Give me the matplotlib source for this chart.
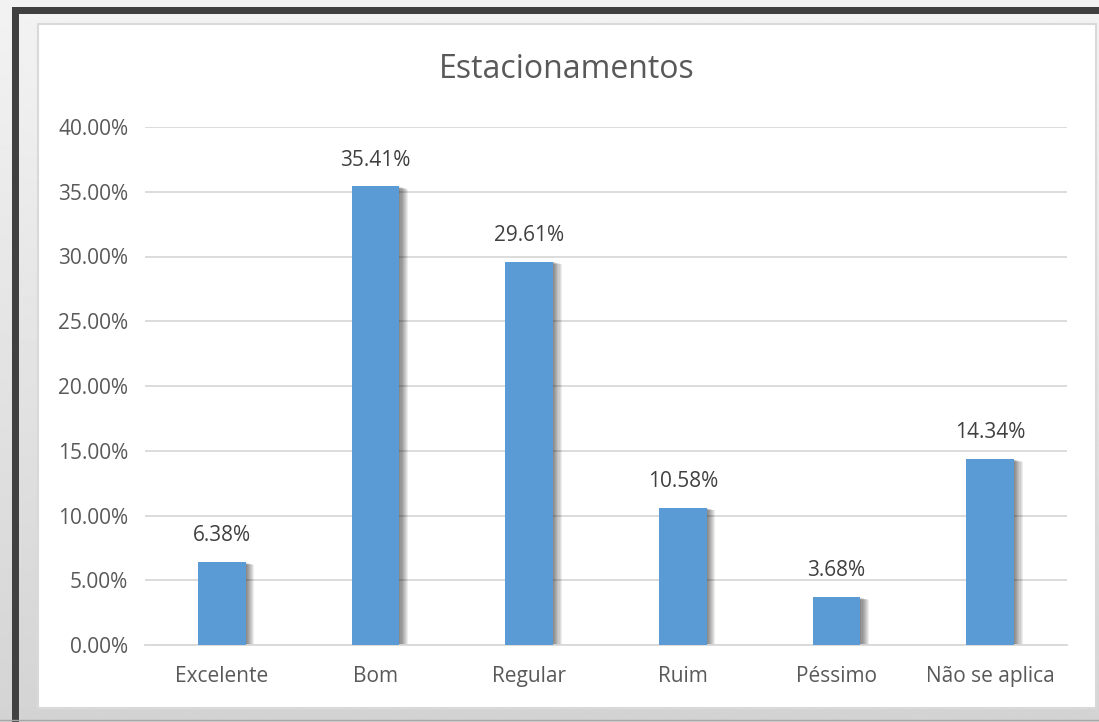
import matplotlib.pyplot as plt
import matplotlib.patches as mpatches
import matplotlib.transforms as mtransforms
import numpy as np

plt.rcParams['font.family'] = ['Open Sans', 'DejaVu Sans']

categorias = ["Excelente", "Bom", "Regular", "Ruim", "Péssimo", "Não se aplica"]
valores = [0.0638, 0.3541, 0.2961, 0.1058, 0.0368, 0.1434]
rotulos = ["6.38%", "35.41%", "29.61%", "10.58%", "3.68%", "14.34%"]
ticks_y = [0.0, 0.05, 0.10, 0.15, 0.20, 0.25, 0.30, 0.35, 0.40]

W, H = 1099, 722
fig = plt.figure(figsize=(W / 100, H / 100), dpi=100)

# moldura / fundo (coordenadas em pixels)
bg = fig.add_axes([0, 0, 1, 1], zorder=-5)
bg.axis("off")
grad = np.linspace(0.95, 0.83, 256).reshape(-1, 1)
bg.imshow(grad, cmap="gray", vmin=0, vmax=1, extent=[0, W, H, 0], aspect="auto", zorder=0)
bg.add_patch(mpatches.Rectangle((0, 0), W, 7, color="#f2f2f2", lw=0, zorder=1))
bg.add_patch(mpatches.Rectangle((12, 7), W, H, color="#404040", lw=0, zorder=2))
bg.imshow(grad, cmap="gray", vmin=0, vmax=1, extent=[19, W, H, 14], aspect="auto", zorder=3)
bg.add_patch(mpatches.Rectangle((38, 24), 1058, 684, facecolor="white",
                                edgecolor="#d9d9d9", lw=1.5, zorder=4))
bg.plot([0, W], [720, 720], color="#a6a6a6", lw=1, zorder=5)
bg.set_xlim(0, W)
bg.set_ylim(H, 0)

ax = fig.add_axes([145 / W, 1 - 645 / H, 922 / W, 518 / H])
ax.set_facecolor("none")
x = np.arange(len(categorias))
larg = 0.31

# sombra das barras
for k in range(1, 9):
    off = mtransforms.ScaledTranslation(k * 0.011, -k * 0.003, fig.dpi_scale_trans)
    for xi, v in zip(x, valores):
        ax.add_patch(mpatches.Rectangle((xi - larg / 2, 0), larg, v, color="black",
                                        alpha=0.07, lw=0, zorder=2,
                                        transform=ax.transData + off))

ax.bar(x, valores, width=larg, color="#5b9bd5", zorder=3)

for xi, v, r in zip(x, valores, rotulos):
    ax.annotate(r, (xi, v), xytext=(0, 19), textcoords="offset points",
                ha="center", va="center", fontsize=15, color="#404040")

ax.set_xlim(-0.5, len(categorias) - 0.5)
ax.set_ylim(0, 0.40)
ax.set_yticks(ticks_y)
ax.set_yticklabels(["%.2f%%" % (t * 100) for t in ticks_y])
ax.set_xticks(x)
ax.set_xticklabels(categorias)
ax.tick_params(axis="both", length=0, labelsize=15, labelcolor="#595959")
ax.tick_params(axis="y", pad=12)
ax.tick_params(axis="x", pad=15)
ax.grid(axis="y", color="#d9d9d9", lw=1.3, zorder=0)
ax.set_axisbelow(True)
for s in ["top", "right", "left"]:
    ax.spines[s].set_visible(False)
ax.spines["bottom"].set_color("#d9d9d9")
ax.spines["bottom"].set_linewidth(1.3)

fig.text(567 / W, 1 - 70 / H, "Estacionamentos", ha="center", va="center",
         fontsize=23, color="#595959")

fig.savefig("out.png", dpi=100)
